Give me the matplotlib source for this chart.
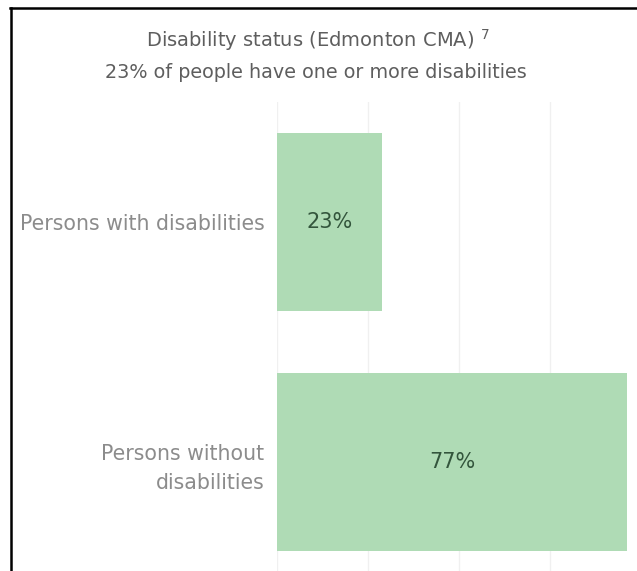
import matplotlib
matplotlib.use('Agg')
import matplotlib.pyplot as plt
from matplotlib.lines import Line2D

# data
categories = ['Persons with disabilities', 'Persons without\ndisabilities']
shares = [0.23, 0.77]
bar_labels = ['23%', '77%']
title = 'Disability status (Edmonton CMA)'
subtitle = '23% of people have one or more disabilities'

W, H = 637, 571
fig = plt.figure(figsize=(W / 100, H / 100), dpi=100)
plt.rcParams['font.family'] = ['DejaVu Sans']

# axes in pixel terms: x 277..637, y 102..582 (bottom band runs past the image)
ax = fig.add_axes([277 / W, 1 - 582 / H, (W - 277) / W, 480 / H])
ypos = list(range(len(categories)))
ax.barh(ypos, shares, height=0.74, color='#afdbb5', zorder=2)
ax.set_ylim(len(categories) - 0.5, -0.5)
ax.set_xlim(0, 0.791)

ax.set_xticks([0, 0.2, 0.4, 0.6])
ax.grid(axis='x', color='#f0f0f0', linewidth=1, zorder=0)
ax.tick_params(axis='x', length=0, labelbottom=False)
ax.tick_params(axis='y', length=0, pad=9)
ax.set_yticks(ypos)
ax.set_yticklabels(categories, fontsize=14.8, color='#8c8c8c', linespacing=1.55)
for lab in ax.get_yticklabels():
    lab.set_horizontalalignment('right')
    lab.set_multialignment('right')
for s in ax.spines.values():
    s.set_visible(False)

for y, v, t in zip(ypos, shares, bar_labels):
    ax.text(v / 2, y, t, ha='center', va='center', fontsize=15, color='#33553c', zorder=3)

fig.text(318 / W, 1 - 40 / H, title + ' $^{7}$', ha='center', va='center',
         fontsize=14, color='#5e5e5e')
fig.text(316 / W, 1 - 73 / H, subtitle, ha='center', va='center',
         fontsize=13.8, color='#5e5e5e')

# frame lines on top and left
fig.add_artist(Line2D([10 / W, 1], [1 - 7.5 / H, 1 - 7.5 / H], color='black', linewidth=1.8,
                      transform=fig.transFigure))
fig.add_artist(Line2D([11 / W, 11 / W], [0, 1 - 7.5 / H], color='black', linewidth=1.8,
                      transform=fig.transFigure))

fig.savefig('out.png', dpi=100)
